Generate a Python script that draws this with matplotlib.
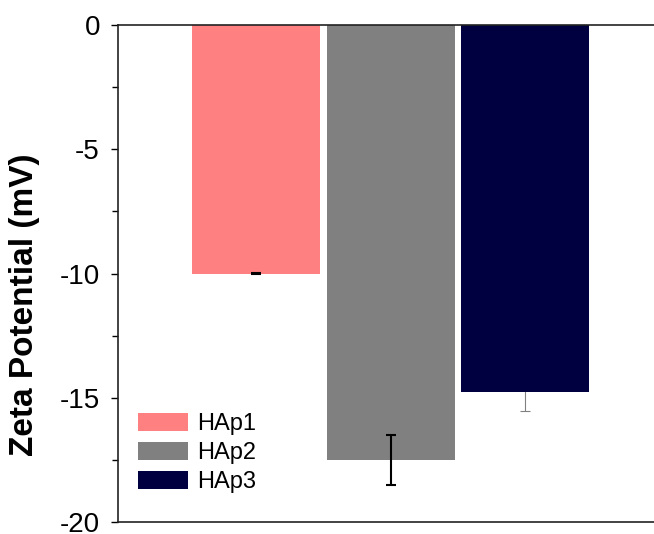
import numpy as np
import matplotlib
matplotlib.use("Agg")
import matplotlib.pyplot as plt

plt.rcParams['font.family'] = ['Liberation Sans', 'DejaVu Sans']
plt.rcParams['axes.unicode_minus'] = False

# datos
muestras = ['HAp1', 'HAp2', 'HAp3']
zeta = [-10.0, -17.5, -14.75]
error = [0.03, 1.0, 0.8]
colores = ['#FF8080', '#808080', '#000040']
colores_error = ['black', 'black', '#808080']
grosor_error = [1.5, 1.5, 0.8]
orden_error = [3, 3, 1]

fig = plt.figure(figsize=(6.54, 5.34), dpi=100)
ax = fig.add_axes([118/654, 12/534, 1 - 118/654, 497/534])

x = np.arange(1, len(muestras) + 1)
for i in range(len(muestras)):
    ax.bar(x[i], zeta[i], width=0.95, color=colores[i], label=muestras[i], zorder=2)
    ax.errorbar(x[i], zeta[i], yerr=error[i], fmt='none', ecolor=colores_error[i],
                elinewidth=grosor_error[i], capsize=3.5, capthick=grosor_error[i],
                zorder=orden_error[i])

ax.set_xlim(-0.025, 3.955)
ax.set_ylim(-20, 0)
ax.set_yticks([0, -5, -10, -15, -20])
ax.set_yticks([-2.5, -7.5, -12.5, -17.5], minor=True)
ax.set_xticks([])
ax.tick_params(axis='y', which='major', direction='out', length=5, width=1, labelsize=20, pad=8)
ax.tick_params(axis='y', which='minor', direction='out', length=4, width=1)
ax.spines['right'].set_visible(False)
for s in ['left', 'top', 'bottom']:
    ax.spines[s].set_linewidth(1.2)
    ax.spines[s].set_color('#222222')

ax.set_ylabel('Zeta Potential (mV)', fontsize=24, fontweight='bold')
ax.yaxis.set_label_coords(-0.145, 0.437)

ax.legend(loc='center left', bbox_to_anchor=(138/654, 1 - 453/534), bbox_transform=fig.transFigure,
          frameon=False, fontsize=17, handlelength=2.1, handleheight=0.8,
          labelspacing=0.3, handletextpad=0.4, borderpad=0, borderaxespad=0)

fig.savefig('out.png', dpi=100)
